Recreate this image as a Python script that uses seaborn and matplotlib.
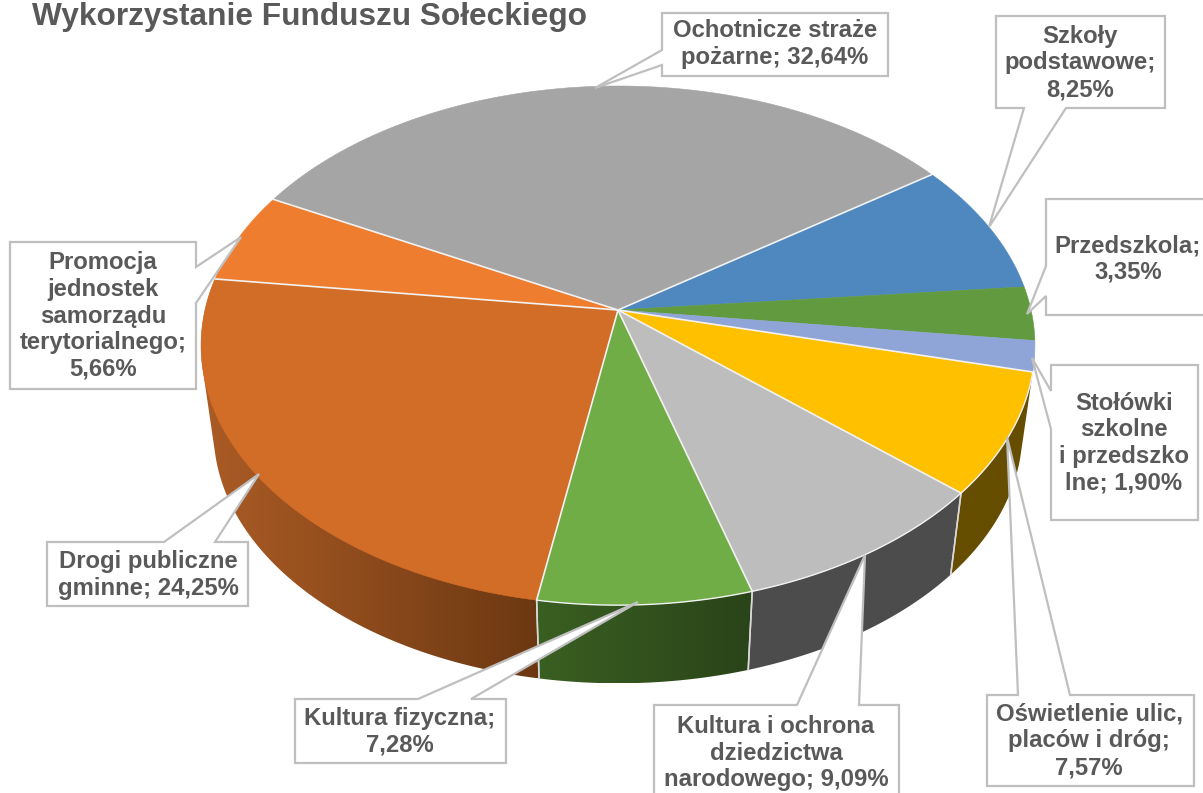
import numpy as np
import matplotlib
matplotlib.use("Agg")
import matplotlib.pyplot as plt
from matplotlib.patches import Polygon
import seaborn as sns

# Data, clockwise from the top slice
categories = ["Ochotnicze straże", "Szkoły podstawowe", "Przedszkola", "Stołówki szkolne i przedszkolne",
              "Oświetlenie ulic, placów i dróg", "Kultura i ochrona dziedzictwa narodowego",
              "Kultura fizyczna", "Drogi publiczne gminne", "Promocja jednostek samorządu terytorialnego"]
shares = [32.64, 8.25, 3.35, 1.90, 7.57, 9.09, 7.28, 24.25, 5.66]
label_names = ["Ochotnicze straże\npożarne; ", "Szkoły\npodstawowe;\n", "Przedszkola;\n", "Stołówki\nszkolne\ni przedszko\nlne; ",
               "Oświetlenie ulic,\nplaców i dróg;\n", "Kultura i ochrona\ndziedzictwa\nnarodowego; ",
               "Kultura fizyczna;\n", "Drogi publiczne\ngminne; ", "Promocja\njednostek\nsamorządu\nterytorialnego;\n"]
title = "Wykorzystanie Funduszu Sołeckiego"

top_colors = ["#a5a5a5", "#4e88bf", "#629b3f", "#8fa5d7", "#ffc000", "#bdbdbd", "#70ad47", "#d26d28", "#ef7d30"]
# wall shading left to right, only for slices whose side shows
wall_colors = {4: ("#664d00", "#664d00"), 5: ("#4c4c4c", "#4c4c4c"),
               6: ("#3a5f22", "#2a4419"), 7: ("#ac5c25", "#6c3812")}

# Geometry of the tilted pie in pixels
cx, cy = 618, 310
a, b, k = 413.0, 254.7, 0.137
depth_x, depth_y = 0.97, 397
start_angle = 152.5


def top_xy(deg):
    t = np.radians(deg)
    w = 1 + k * np.sin(t)
    return cx + a * np.cos(t) / w, cy - b * np.sin(t) / w


def bottom_xy(deg):
    x, y = top_xy(deg)
    return cx + depth_x * (x - cx), depth_y + depth_x * (y - cy)


def hull(points):
    # convex hull, the area swept between the two rims of a slice
    pts = sorted(set(points))

    def half(seq):
        out = []
        for p in seq:
            while len(out) > 1 and (out[-1][0] - out[-2][0]) * (p[1] - out[-2][1]) - (out[-1][1] - out[-2][1]) * (p[0] - out[-2][0]) <= 0:
                out.pop()
            out.append(p)
        return out[:-1]

    return half(pts) + half(pts[::-1])


# Callouts: box, pointer points in outline order, text centre
callouts = [
    dict(box=(662, 13, 888, 76), side="left", ptr=[(662, 50), (595, 88), (662, 65)], xy=(775, 44)),
    dict(box=(996, 16, 1165, 108), side="bottom", ptr=[(1066, 108), (989, 227), (1024, 108)], xy=(1080, 63)),
    dict(box=(1046, 199, 1215, 315), side="left", ptr=[(1046, 266), (1027, 314), (1046, 296)], xy=(1128, 259)),
    dict(box=(1051, 365, 1198, 520), side="left", ptr=[(1051, 391), (1032, 358), (1051, 429)], xy=(1124, 443)),
    dict(box=(987, 695, 1194, 786), side="top", ptr=[(1018, 695), (1007, 437), (1070, 695)], xy=(1089, 741)),
    dict(box=(654, 705, 899, 810), side="top", ptr=[(797, 705), (865, 555), (859, 705)], xy=(776, 753)),
    dict(box=(295, 699, 506, 763), side="top", ptr=[(418, 699), (638, 602), (471, 699)], xy=(400, 732)),
    dict(box=(47, 542, 248, 606), side="top", ptr=[(164, 542), (259, 474), (215, 542)], xy=(148, 575)),
    dict(box=(10, 242, 196, 389), side="right", ptr=[(196, 267), (241, 237), (196, 303)], xy=(103, 316)),
]

sns.set_theme(style="white")
plt.rcParams["font.family"] = ["Liberation Sans", "DejaVu Sans"]

fig = plt.figure(figsize=(12.03, 7.93), dpi=100)
ax = fig.add_axes([0, 0, 1, 1])
ax.axis("off")

# slice limits come from the shares
sweeps = np.array(shares) / sum(shares) * 360
ends = start_angle - np.cumsum(sweeps)
starts = ends + sweeps

# Side walls first, the tops go over them
for i in [4, 5, 6, 7]:
    ang = np.linspace(starts[i], ends[i], 150)
    xt, yt = top_xy(ang)
    xb, yb = bottom_xy(ang)
    outline = hull(list(zip(xt, yt)) + list(zip(xb, yb)))
    shape = Polygon(outline, closed=True, transform=ax.transData, facecolor="none", edgecolor="none")
    ax.add_patch(shape)
    xs = [p[0] for p in outline]
    ys = [p[1] for p in outline]
    cmap = sns.blend_palette(wall_colors[i], 64, as_cmap=True)
    im = ax.imshow(np.linspace(0, 1, 256)[None, :], cmap=cmap, aspect="auto", zorder=2,
                   extent=(min(xs), max(xs), max(ys), min(ys)))
    im.set_clip_path(shape)
    # thin light divider on the slice edge
    for e in [starts[i], ends[i]]:
        if np.sin(np.radians(e)) < -0.5:
            ax.plot([top_xy(e)[0], bottom_xy(e)[0]], [top_xy(e)[1], bottom_xy(e)[1]], color="#d9d9d9", lw=1.1, zorder=3)

ax.set_xlim(0, 1203)
ax.set_ylim(793, 0)

# Top faces
for i, color in enumerate(top_colors):
    ang = np.linspace(starts[i], ends[i], 120)
    x, y = top_xy(ang)
    ax.fill(np.r_[cx, x], np.r_[cy, y], facecolor=color, edgecolor=color, lw=0.4, zorder=4)

# Light seams, not on the blue/green and green/lavender joins
for i in [0, 3, 4, 5, 6, 7, 8]:
    x, y = top_xy(ends[i])
    ax.plot([cx, x], [cy, y], color="#f2f2f2", lw=1.2, zorder=4.5)
for i in [4, 5, 6]:
    x, y = top_xy(np.linspace(starts[i], ends[i], 80))
    ax.plot(x, y, color="#f2f2f2", lw=1.0, zorder=4.5)

# Callout boxes with their pointers
for c, name, val in zip(callouts, label_names, shares):
    x0, y0, x1, y1 = c["box"]
    if c["side"] == "left":
        pts = [(x0, y0), (x1, y0), (x1, y1), (x0, y1)] + c["ptr"][::-1]
    elif c["side"] == "right":
        pts = [(x0, y0), (x1, y0)] + c["ptr"] + [(x1, y1), (x0, y1)]
    elif c["side"] == "bottom":
        pts = [(x0, y0), (x1, y0), (x1, y1)] + c["ptr"] + [(x0, y1)]
    else:
        pts = [(x0, y0)] + c["ptr"] + [(x1, y0), (x1, y1), (x0, y1)]
    px, py = zip(*pts)
    ax.fill(px, py, facecolor="white", edgecolor="#bfbfbf", lw=1.6, zorder=5)
    ax.text(c["xy"][0], c["xy"][1], name + f"{val:.2f}%".replace(".", ","), ha="center", va="center",
            fontsize=17.2, fontweight="bold", color="#595959", linespacing=1.2, zorder=6)

ax.text(32, 25, title, fontsize=22.8, fontweight="bold", color="#595959", ha="left", va="baseline", zorder=6)

fig.savefig("out.png", dpi=100)
